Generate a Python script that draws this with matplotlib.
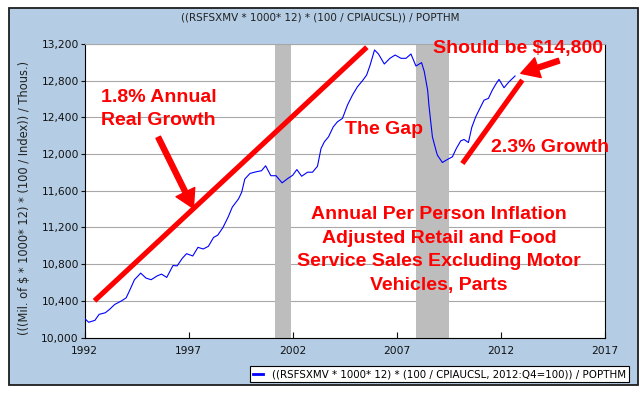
import matplotlib
matplotlib.use('Agg')
import matplotlib.pyplot as plt
from matplotlib.patches import Rectangle, FancyArrowPatch

# series (year, value)
years = [1992.0, 1992.2, 1992.5, 1992.7, 1993.0, 1993.2, 1993.45, 1993.75, 1994.0, 1994.15,
         1994.4, 1994.7, 1994.95, 1995.2, 1995.5, 1995.7, 1995.95, 1996.25, 1996.45, 1996.7,
         1996.9, 1997.2, 1997.45, 1997.7, 1997.95, 1998.2, 1998.4, 1998.65, 1998.9, 1999.1,
         1999.4, 1999.55, 1999.7, 1999.95, 2000.25, 2000.5, 2000.7, 2000.95, 2001.2, 2001.49,
         2001.76, 2002.0, 2002.2, 2002.43, 2002.71, 2002.95, 2003.19, 2003.36, 2003.52, 2003.72,
         2003.95, 2004.15, 2004.39, 2004.63, 2004.87, 2005.11, 2005.35, 2005.55, 2005.72, 2005.93,
         2006.12, 2006.4, 2006.67, 2006.92, 2007.2, 2007.44, 2007.68, 2007.92, 2008.19, 2008.32,
         2008.48, 2008.55, 2008.71, 2008.88, 2008.95, 2009.19, 2009.43, 2009.67, 2009.86, 2010.07,
         2010.23, 2010.44, 2010.6, 2010.79, 2011.03, 2011.19, 2011.4, 2011.59, 2011.78, 2011.91,
         2012.15, 2012.39, 2012.68]
values = [10209, 10166, 10187, 10252, 10270, 10306, 10360, 10396, 10432, 10504,
          10630, 10702, 10648, 10630, 10673, 10691, 10655, 10785, 10781, 10864,
          10914, 10889, 10983, 10965, 10994, 11091, 11116, 11199, 11314, 11422,
          11512, 11584, 11728, 11789, 11807, 11818, 11872, 11764, 11764, 11686,
          11733, 11769, 11831, 11758, 11802, 11802, 11867, 12060, 12133, 12188,
          12297, 12352, 12389, 12534, 12643, 12734, 12799, 12861, 12971, 13135,
          13091, 12982, 13044, 13080, 13044, 13044, 13091, 12960, 12997, 12900,
          12698, 12516, 12188, 12042, 11988, 11908, 11941, 11970, 12061, 12144,
          12159, 12126, 12290, 12406, 12516, 12588, 12607, 12698, 12771, 12814,
          12723, 12788, 12851]

rec_start = [2001.17, 2007.92]
rec_end = [2001.92, 2009.5]

x_ticks = [1992, 1997, 2002, 2007, 2012, 2017]
y_ticks = [10000, 10400, 10800, 11200, 11600, 12000, 12400, 12800, 13200]

title = '((RSFSXMV * 1000* 12) * (100 / CPIAUCSL)) / POPTHM'
ylab = '(((Mil. of $ * 1000* 12) * (100 / Index)) / Thous.)'
leg_label = '((RSFSXMV * 1000* 12) * (100 / CPIAUCSL, 2012:Q4=100)) / POPTHM'

# hand drawn red overlay
trend_x = [1992.48, 2005.56]
trend_y = [10400, 13165]
trend2_x = [2010.15, 2013.03]
trend2_y = [11897, 12807]

W, H = 644, 393
bg = '#b4cde4'
red = '#ff0000'

fig = plt.figure(figsize=(W / 100, H / 100), dpi=100)
fig.patch.set_facecolor('white')
fig.patches.append(Rectangle((9 / W, 8 / H), 629 / W, 377 / H, transform=fig.transFigure,
                             facecolor=bg, edgecolor='#1e1e1e', lw=1.3, zorder=-10))

ax = fig.add_axes([84.5 / W, (H - 337.5) / H, (605 - 84.5) / W, (337.5 - 44) / H])
ax.set_facecolor('white')

for a, b in zip(rec_start, rec_end):
    ax.axvspan(a, b, color='#bdbdbd', lw=0, zorder=1)
ax.plot(years, values, color='#0000ff', lw=0.8, zorder=3, label=leg_label)

ax.set_xlim(1992, 2017)
ax.set_ylim(10000, 13200)
ax.set_xticks(x_ticks)
ax.set_xticklabels([str(x) for x in x_ticks])
ax.set_yticks(y_ticks)
ax.set_yticklabels([f'{v:,}' for v in y_ticks])
ax.yaxis.grid(True, color='#a8a8a8', lw=0.8)
ax.set_axisbelow(True)
ax.tick_params(axis='x', direction='in', length=4, pad=6, labelsize=7.7, colors='#111111')
ax.tick_params(axis='y', direction='out', length=3, pad=1, labelsize=7.7, colors='#111111')
for s in ['left', 'bottom', 'right']:
    ax.spines[s].set_color('black')
    ax.spines[s].set_linewidth(0.8)
ax.spines['top'].set_color('#a8a8a8')

fig.text(320 / W, 1 - 18 / H, title, ha='center', va='center', fontsize=7.5, color='#222222')
fig.text(25 / W, 1 - 198 / H, ylab, ha='center', va='center', rotation=90, fontsize=8.3,
         color='#222222')

leg = fig.legend(loc='upper right', bbox_to_anchor=(634 / W, 1 - 361 / H), fontsize=7.4,
                 handlelength=1.0, handletextpad=0.8, borderpad=0.3, fancybox=False,
                 framealpha=1, edgecolor='black')
leg.get_frame().set_linewidth(0.8)
for ln in leg.get_lines():
    ln.set_linewidth(2)

# red overlay
ax.plot(trend_x, trend_y, color=red, lw=3.7, solid_capstyle='butt', zorder=5)
ax.plot(trend2_x, trend2_y, color=red, lw=3.7, solid_capstyle='butt', zorder=5)

style = 'simple,head_length=13,head_width=15,tail_width=3.6'
ax.add_patch(FancyArrowPatch((1995.54, 12183), (1997.23, 11409), arrowstyle=style,
                             mutation_scale=1, color=red, shrinkA=0, shrinkB=0, zorder=6))
ax.add_patch(FancyArrowPatch((2014.79, 13018), (2012.955, 12880), arrowstyle=style,
                             mutation_scale=1, color=red, shrinkA=0, shrinkB=0, zorder=6))

tkw = dict(color=red, fontsize=14, fontweight='bold', family='Liberation Sans', zorder=7)
ax.text(1992.78, 12490, '1.8% Annual\nReal Growth', ha='left', va='center', linespacing=1.45, **tkw)
ax.text(2006.4, 12215, 'The Gap', ha='center', va='baseline', **tkw)
ax.text(2014.36, 12019, '2.3% Growth', ha='center', va='baseline', **tkw)
ax.text(2012.82, 13105, 'Should be $14,800', ha='center', va='baseline', **tkw)
ax.text(2009.03, 10954, 'Annual Per Person Inflation\nAdjusted Retail and Food\n'
        'Service Sales Excluding Motor\nVehicles, Parts', ha='center', va='center',
        multialignment='center', linespacing=1.5, **tkw)

fig.savefig('out.png', dpi=100, facecolor=fig.get_facecolor())
